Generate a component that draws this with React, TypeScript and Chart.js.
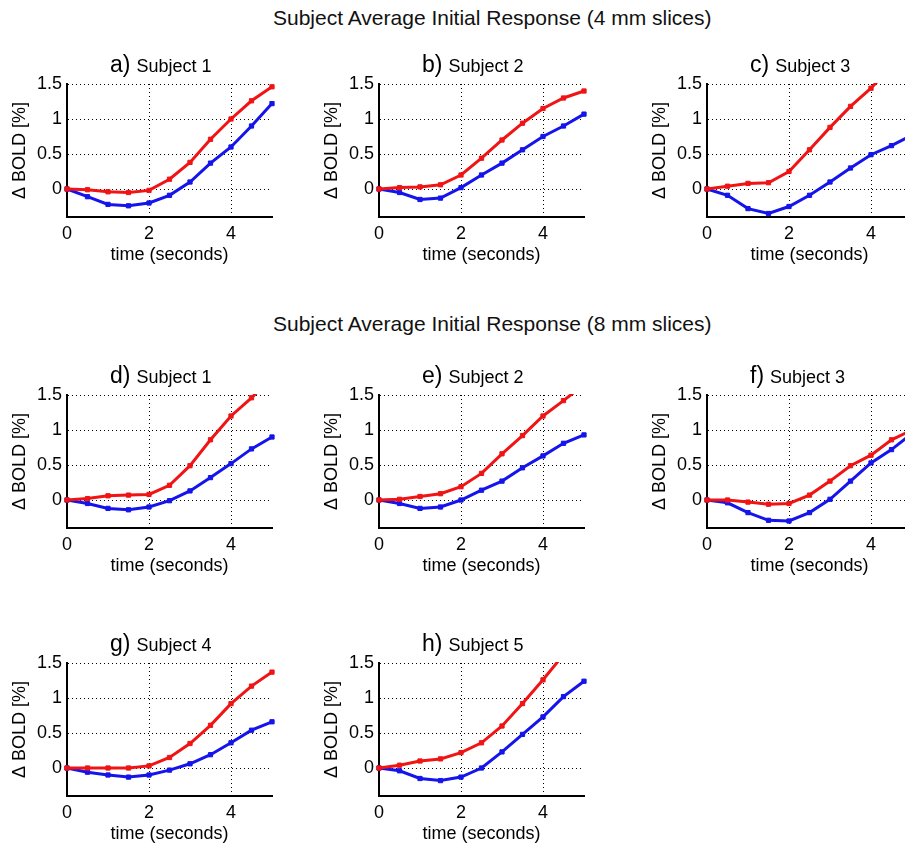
import React, { useEffect, useRef } from "react";
import { Chart, registerables } from "chart.js";

Chart.register(...registerables);

const FONT = '"Liberation Sans", Arial, Helvetica, sans-serif';
Chart.defaults.font.family = FONT;

// time axis (seconds)
const TIME = [0, 0.5, 1, 1.5, 2, 2.5, 3, 3.5, 4, 4.5, 5];
const X_TICKS = [0, 2, 4];
const Y_TICKS = [0, 0.5, 1, 1.5];
const X_MIN = 0;
const X_MAX = 5;
const Y_MIN = -0.4;
const Y_MAX = 1.5;

const SUPTITLE_4MM = "Subject Average Initial Response (4 mm slices)";
const SUPTITLE_8MM = "Subject Average Initial Response (8 mm slices)";
const X_TITLE = "time (seconds)";
const Y_TITLE = "\u0394 BOLD [%]";

// 4 mm slices
const A_RED = [0, -0.01, -0.04, -0.05, -0.02, 0.14, 0.38, 0.71, 1.0, 1.26, 1.46];
const A_BLUE = [0, -0.11, -0.22, -0.24, -0.2, -0.09, 0.1, 0.37, 0.6, 0.9, 1.22];
const B_RED = [0, 0.02, 0.03, 0.06, 0.2, 0.44, 0.7, 0.94, 1.15, 1.3, 1.4];
const B_BLUE = [0, -0.05, -0.15, -0.13, 0.02, 0.2, 0.37, 0.56, 0.75, 0.9, 1.07];
const C_RED = [0, 0.04, 0.08, 0.09, 0.25, 0.56, 0.88, 1.18, 1.44, 1.75, 2.0];
const C_BLUE = [0, -0.09, -0.28, -0.35, -0.25, -0.09, 0.1, 0.3, 0.49, 0.62, 0.77];
// 8 mm slices
const D_RED = [0, 0.02, 0.06, 0.07, 0.08, 0.21, 0.49, 0.86, 1.2, 1.46, 1.75];
const D_BLUE = [0, -0.05, -0.12, -0.14, -0.1, -0.01, 0.13, 0.32, 0.52, 0.73, 0.9];
const E_RED = [0, 0.01, 0.05, 0.09, 0.19, 0.38, 0.66, 0.92, 1.2, 1.42, 1.65];
const E_BLUE = [0, -0.05, -0.12, -0.1, 0.0, 0.14, 0.27, 0.46, 0.63, 0.81, 0.93];
const F_RED = [0, 0, -0.03, -0.06, -0.05, 0.07, 0.27, 0.49, 0.64, 0.86, 1.0];
const F_BLUE = [0, -0.04, -0.18, -0.29, -0.3, -0.18, 0.01, 0.27, 0.53, 0.72, 0.95];
const G_RED = [0, 0, 0, 0, 0.03, 0.15, 0.35, 0.61, 0.92, 1.17, 1.37];
const G_BLUE = [0, -0.06, -0.1, -0.13, -0.1, -0.03, 0.06, 0.19, 0.36, 0.54, 0.66];
const H_RED = [0, 0.04, 0.1, 0.13, 0.22, 0.36, 0.6, 0.92, 1.26, 1.62, 1.85];
const H_BLUE = [0, -0.04, -0.15, -0.18, -0.13, 0.0, 0.23, 0.48, 0.73, 1.02, 1.24];

const RED = "#f01414";
const BLUE = "#1414eb";

// layout (plot-area left edges and top edges)
const COL_LEFT = [67, 379, 707];
const ROW_TOP = [84, 395, 663];
const PLOT_W = 205;
const PLOT_H = 133;
const AXIS_W = 67;
const PAD_TOP = 24;
const PAD_RIGHT = 8;
const XAXIS_H = 50;

type PanelDef = { letter: string; subject: string; red: number[]; blue: number[]; col: number; row: number };

const PANELS: PanelDef[] = [
  { letter: "a)", subject: "Subject 1", red: A_RED, blue: A_BLUE, col: 0, row: 0 },
  { letter: "b)", subject: "Subject 2", red: B_RED, blue: B_BLUE, col: 1, row: 0 },
  { letter: "c)", subject: "Subject 3", red: C_RED, blue: C_BLUE, col: 2, row: 0 },
  { letter: "d)", subject: "Subject 1", red: D_RED, blue: D_BLUE, col: 0, row: 1 },
  { letter: "e)", subject: "Subject 2", red: E_RED, blue: E_BLUE, col: 1, row: 1 },
  { letter: "f)", subject: "Subject 3", red: F_RED, blue: F_BLUE, col: 2, row: 1 },
  { letter: "g)", subject: "Subject 4", red: G_RED, blue: G_BLUE, col: 0, row: 2 },
  { letter: "h)", subject: "Subject 5", red: H_RED, blue: H_BLUE, col: 1, row: 2 },
];

function Panel({ p }: { p: PanelDef }) {
  const ref = useRef<HTMLCanvasElement | null>(null);
  const left = COL_LEFT[p.col] - AXIS_W;
  const top = ROW_TOP[p.row] - PAD_TOP;
  const width = AXIS_W + PLOT_W + PAD_RIGHT;
  const height = PAD_TOP + PLOT_H + XAXIS_H;

  useEffect(() => {
    if (!ref.current) return;
    const mk = (vals: number[], color: string) => ({
      data: TIME.map((t, i) => ({ x: t, y: vals[i] })),
      borderColor: color,
      backgroundColor: color,
      borderWidth: 3,
      pointStyle: "rect" as const,
      pointRadius: 3,
      pointBorderWidth: 1,
      tension: 0,
      clip: { left: 5, right: 5, top: 1, bottom: 5 },
    });
    const chart = new Chart(ref.current, {
      type: "line",
      data: { datasets: [mk(p.red, RED), mk(p.blue, BLUE)] },
      options: {
        animation: false,
        responsive: false,
        layout: { padding: { top: PAD_TOP, right: PAD_RIGHT, left: 0, bottom: 0 } },
        plugins: { legend: { display: false }, tooltip: { enabled: false }, title: { display: false } },
        scales: {
          x: {
            type: "linear",
            min: X_MIN,
            max: X_MAX,
            afterBuildTicks: (s: any) => {
              s.ticks = X_TICKS.map((v) => ({ value: v }));
            },
            afterFit: (s: any) => {
              s.height = XAXIS_H;
            },
            grid: { color: "#000", lineWidth: 1, drawTicks: false },
            border: { display: true, color: "#000", width: 2, dash: [1, 3] },
            ticks: { color: "#000", font: { size: 18 }, padding: 6, maxRotation: 0, autoSkip: false, callback: (v: any) => String(v) },
            title: { display: true, text: X_TITLE, color: "#000", font: { size: 18 }, padding: { top: 0, bottom: 1 } },
          },
          y: {
            type: "linear",
            min: Y_MIN,
            max: Y_MAX,
            afterBuildTicks: (s: any) => {
              s.ticks = Y_TICKS.map((v) => ({ value: v }));
            },
            afterFit: (s: any) => {
              s.width = AXIS_W;
            },
            grid: { color: "#000", lineWidth: 1, drawTicks: false },
            border: { display: true, color: "#000", width: 2, dash: [1, 3] },
            ticks: { color: "#000", font: { size: 18 }, padding: 5, autoSkip: false, callback: (v: any) => String(v) },
            title: { display: true, text: Y_TITLE, color: "#000", font: { size: 18 }, padding: { top: 9, bottom: 0 } },
          },
        },
      },
    } as any);
    return () => chart.destroy();
  }, [p]);

  return (
    <>
      <canvas ref={ref} width={width} height={height} style={{ position: "absolute", left, top, width, height }} />
      <div
        style={{
          position: "absolute",
          left: COL_LEFT[p.col] + 43,
          top: ROW_TOP[p.row] - 31,
          fontFamily: FONT,
          fontSize: 23,
          lineHeight: "22px",
          color: "#000",
          whiteSpace: "nowrap",
        }}
      >
        {p.letter}
        <span style={{ fontSize: 18, marginLeft: 6 }}>{p.subject}</span>
      </div>
    </>
  );
}

export default function App() {
  const sup = (text: string, top: number) => (
    <div
      style={{
        position: "absolute",
        left: 273,
        top,
        fontFamily: FONT,
        fontSize: 21,
        lineHeight: "21px",
        color: "#111",
        whiteSpace: "nowrap",
      }}
    >
      {text}
    </div>
  );
  return (
    <div style={{ position: "fixed", left: 0, top: 0, width: 905, height: 845, overflow: "hidden", background: "#fff" }}>
      {sup(SUPTITLE_4MM, 7)}
      {sup(SUPTITLE_8MM, 313)}
      {PANELS.map((p, i) => (
        <Panel key={i} p={p} />
      ))}
    </div>
  );
}
